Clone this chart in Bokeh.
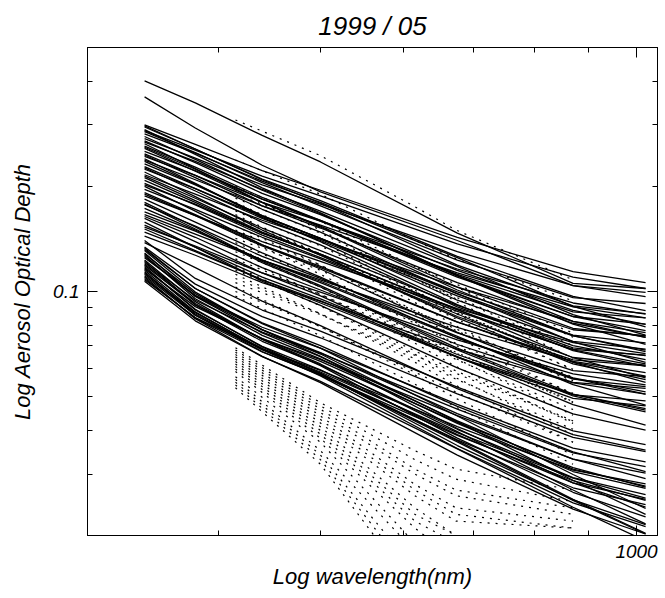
from bokeh.plotting import figure
from bokeh.models import LogAxis, FixedTicker, Range1d, BasicTickFormatter, CustomJSTickFormatter
from bokeh.embed import file_html
from bokeh.resources import INLINE

# wavelengths (nm)
wl_solid = [340, 380, 440, 500, 675, 870, 1020]
wl_dotted = [415, 500, 615, 673, 870]

# solid series (AOD at wl_solid)
aod_solid_top = [
    [0.401, 0.347, 0.280, 0.235, 0.147, 0.1055, 0.102],
    [0.361, 0.294, 0.230, 0.193, 0.140, 0.104, 0.0994],
]
aod_solid_upper = [
    [0.300, 0.264, 0.222, 0.195, 0.143, 0.114, 0.106],
    [0.298, 0.256, 0.209, 0.179, 0.119, 0.0909, 0.0864],
    [0.296, 0.256, 0.210, 0.182, 0.126, 0.0968, 0.0882],
    [0.291, 0.247, 0.198, 0.168, 0.111, 0.0821, 0.0739],
    [0.289, 0.254, 0.214, 0.188, 0.137, 0.110, 0.102],
    [0.287, 0.250, 0.205, 0.176, 0.123, 0.0961, 0.0924],
    [0.283, 0.249, 0.207, 0.180, 0.125, 0.0906, 0.0792],
    [0.278, 0.239, 0.195, 0.167, 0.111, 0.0848, 0.0806],
    [0.274, 0.241, 0.202, 0.178, 0.130, 0.104, 0.0967],
    [0.270, 0.234, 0.191, 0.166, 0.115, 0.0883, 0.0805],
    [0.268, 0.236, 0.196, 0.170, 0.118, 0.0858, 0.0750],
    [0.265, 0.225, 0.180, 0.153, 0.101, 0.0747, 0.0673],
    [0.261, 0.227, 0.186, 0.160, 0.112, 0.0874, 0.0840],
    [0.259, 0.224, 0.184, 0.159, 0.110, 0.0847, 0.0772],
    [0.257, 0.221, 0.180, 0.154, 0.103, 0.0784, 0.0745],
    [0.252, 0.222, 0.184, 0.160, 0.111, 0.0806, 0.0706],
    [0.248, 0.215, 0.176, 0.152, 0.106, 0.0811, 0.0739],
    [0.246, 0.212, 0.172, 0.148, 0.0984, 0.0750, 0.0713],
    [0.244, 0.215, 0.180, 0.159, 0.116, 0.0927, 0.0861],
    [0.240, 0.204, 0.163, 0.139, 0.0917, 0.0677, 0.0610],
    [0.238, 0.209, 0.176, 0.155, 0.113, 0.0904, 0.0840],
    [0.236, 0.203, 0.165, 0.142, 0.0944, 0.0720, 0.0684],
    [0.232, 0.202, 0.165, 0.142, 0.0998, 0.0777, 0.0747],
    [0.228, 0.197, 0.162, 0.140, 0.0971, 0.0746, 0.0679],
    [0.226, 0.194, 0.158, 0.136, 0.0904, 0.0689, 0.0655],
    [0.224, 0.197, 0.164, 0.142, 0.0986, 0.0717, 0.0627],
    [0.220, 0.187, 0.150, 0.127, 0.0840, 0.0620, 0.0559],
    [0.216, 0.190, 0.160, 0.141, 0.103, 0.0821, 0.0762],
    [0.214, 0.185, 0.152, 0.131, 0.0912, 0.0700, 0.0638],
    [0.212, 0.182, 0.148, 0.127, 0.0848, 0.0647, 0.0615],
    [0.208, 0.180, 0.147, 0.128, 0.0886, 0.0680, 0.0620],
    [0.204, 0.177, 0.145, 0.125, 0.0877, 0.0683, 0.0657],
    [0.202, 0.178, 0.147, 0.128, 0.0889, 0.0646, 0.0566],
    [0.200, 0.170, 0.136, 0.116, 0.0764, 0.0564, 0.0508],
    [0.196, 0.172, 0.143, 0.124, 0.0862, 0.0627, 0.0549],
    [0.192, 0.166, 0.136, 0.118, 0.0818, 0.0628, 0.0572],
    [0.190, 0.165, 0.135, 0.117, 0.0817, 0.0637, 0.0612],
    [0.188, 0.165, 0.139, 0.122, 0.0893, 0.0714, 0.0664],
    [0.184, 0.158, 0.129, 0.110, 0.0736, 0.0561, 0.0534],
    [0.180, 0.153, 0.122, 0.104, 0.0688, 0.0508, 0.0457],
    [0.178, 0.151, 0.121, 0.103, 0.0680, 0.0502, 0.0452],
    [0.177, 0.154, 0.126, 0.109, 0.0761, 0.0593, 0.0570],
    [0.173, 0.150, 0.123, 0.106, 0.0737, 0.0566, 0.0516],
    [0.169, 0.149, 0.123, 0.107, 0.0744, 0.0541, 0.0473],
    [0.166, 0.146, 0.123, 0.108, 0.0789, 0.0631, 0.0586],
    [0.164, 0.143, 0.117, 0.101, 0.0705, 0.0549, 0.0528],
    [0.162, 0.139, 0.113, 0.0972, 0.0648, 0.0494, 0.0470],
    [0.158, 0.134, 0.107, 0.0913, 0.0604, 0.0446, 0.0401],
    [0.155, 0.134, 0.110, 0.0952, 0.0660, 0.0507, 0.0462],
    [0.153, 0.135, 0.113, 0.0996, 0.0727, 0.0581, 0.0540],
    [0.151, 0.131, 0.108, 0.0927, 0.0649, 0.0506, 0.0486],
    [0.148, 0.130, 0.108, 0.0940, 0.0651, 0.0474, 0.0414],
    [0.144, 0.127, 0.106, 0.0937, 0.0684, 0.0547, 0.0508],
]
aod_solid_lower = [
    [0.140, 0.109, 0.0885, 0.0770, 0.0532, 0.0399, 0.0364],
    [0.138, 0.117, 0.0938, 0.0798, 0.0527, 0.0389, 0.0351],
    [0.134, 0.105, 0.0847, 0.0737, 0.0509, 0.0382, 0.0348],
    [0.133, 0.102, 0.0809, 0.0688, 0.0440, 0.0299, 0.0239],
    [0.132, 0.102, 0.0813, 0.0700, 0.0469, 0.0347, 0.0305],
    [0.131, 0.0996, 0.0777, 0.0652, 0.0405, 0.0283, 0.0241],
    [0.129, 0.0968, 0.0761, 0.0651, 0.0426, 0.0310, 0.0277],
    [0.128, 0.0986, 0.0778, 0.0662, 0.0424, 0.0288, 0.0230],
    [0.127, 0.0953, 0.0749, 0.0641, 0.0419, 0.0305, 0.0273],
    [0.126, 0.0970, 0.0776, 0.0668, 0.0447, 0.0331, 0.0291],
    [0.125, 0.0975, 0.0790, 0.0688, 0.0475, 0.0356, 0.0325],
    [0.123, 0.0935, 0.0729, 0.0613, 0.0380, 0.0266, 0.0226],
    [0.122, 0.0915, 0.0720, 0.0616, 0.0403, 0.0293, 0.0262],
    [0.121, 0.0944, 0.0765, 0.0666, 0.0460, 0.0345, 0.0315],
    [0.120, 0.0924, 0.0730, 0.0620, 0.0397, 0.0270, 0.0216],
    [0.119, 0.0916, 0.0733, 0.0631, 0.0422, 0.0313, 0.0275],
    [0.118, 0.0885, 0.0696, 0.0596, 0.0389, 0.0283, 0.0254],
    [0.117, 0.0889, 0.0694, 0.0583, 0.0362, 0.0253, 0.0215],
    [0.116, 0.0905, 0.0733, 0.0638, 0.0441, 0.0331, 0.0302],
    [0.115, 0.0874, 0.0682, 0.0573, 0.0355, 0.0248, 0.0212],
    [0.114, 0.0855, 0.0673, 0.0576, 0.0376, 0.0274, 0.0245],
    [0.113, 0.0870, 0.0687, 0.0584, 0.0374, 0.0254, 0.0203],
    [0.112, 0.0862, 0.0681, 0.0579, 0.0371, 0.0252, 0.0202],
    [0.111, 0.0855, 0.0684, 0.0588, 0.0394, 0.0292, 0.0256],
    [0.110, 0.0836, 0.0652, 0.0548, 0.0340, 0.0238, 0.0202],
    [0.109, 0.0839, 0.0671, 0.0578, 0.0387, 0.0287, 0.0252],
    [0.108, 0.0842, 0.0683, 0.0594, 0.0410, 0.0308, 0.0281],
    [0.107, 0.0824, 0.0651, 0.0553, 0.0354, 0.0241, 0.0193],
]

# dotted series (AOD at wl_dotted)
aod_dotted_top = [
    [0.310, 0.245, 0.175, 0.150, 0.108],
    [0.238, 0.190, 0.140, 0.124, 0.094],
]
aod_dotted_upper = [
    [0.200, 0.159, 0.118, 0.103, 0.074],
    [0.195, 0.150, 0.109, 0.0936, 0.0644],
    [0.190, 0.154, 0.118, 0.105, 0.076],
    [0.185, 0.147, 0.109, 0.0953, 0.0685],
    [0.180, 0.139, 0.101, 0.0864, 0.0594],
    [0.175, 0.142, 0.109, 0.0963, 0.070],
    [0.170, 0.135, 0.100, 0.0876, 0.0629],
    [0.166, 0.128, 0.093, 0.0797, 0.0548],
    [0.162, 0.128, 0.0953, 0.0834, 0.0599],
    [0.158, 0.128, 0.098, 0.0869, 0.0632],
    [0.154, 0.119, 0.0862, 0.0739, 0.0508],
    [0.150, 0.119, 0.0882, 0.0773, 0.0555],
    [0.146, 0.112, 0.0818, 0.0701, 0.0482],
    [0.142, 0.115, 0.088, 0.0781, 0.0568],
    [0.138, 0.109, 0.0811, 0.0711, 0.0511],
    [0.134, 0.103, 0.075, 0.0643, 0.0442],
    [0.130, 0.103, 0.0764, 0.067, 0.0481],
    [0.127, 0.0978, 0.0711, 0.061, 0.0419],
    [0.124, 0.0983, 0.0729, 0.0639, 0.0459],
    [0.121, 0.098, 0.075, 0.0666, 0.0484],
    [0.118, 0.0909, 0.0661, 0.0566, 0.0389],
    [0.115, 0.0912, 0.0676, 0.0592, 0.0426],
    [0.112, 0.0862, 0.0627, 0.0538, 0.037],
    [0.109, 0.0864, 0.0641, 0.0561, 0.0403],
    [0.106, 0.0859, 0.0657, 0.0583, 0.0424],
    [0.103, 0.0793, 0.0577, 0.0494, 0.034],
    [0.100, 0.0793, 0.0588, 0.0515, 0.037],
    [0.097, 0.0747, 0.0543, 0.0466, 0.032],
]
aod_dotted_lower = [
    [0.069, 0.048, 0.035, 0.031, 0.027],
    [0.068, 0.047, 0.033, 0.029, 0.025],
    [0.067, 0.046, 0.031, 0.027, 0.024],
    [0.066, 0.045, 0.030, 0.026, 0.023],
    [0.065, 0.044, 0.028, 0.024, 0.022],
    [0.064, 0.043, 0.027, 0.023, 0.021],
    [0.063, 0.042, 0.026, 0.022, 0.021],
    [0.062, 0.041, 0.024, 0.020, 0.019],
    [0.061, 0.040, 0.023, 0.020, 0.020],
    [0.060, 0.039, 0.022, 0.019, 0.020],
    [0.059, 0.038, 0.021, 0.017, 0.018],
    [0.057, 0.037, 0.019, 0.016, 0.017],
    [0.056, 0.035, 0.018, 0.015, 0.018],
    [0.055, 0.034, 0.016, 0.013, 0.015],
    [0.054, 0.033, 0.015, 0.012, 0.014],
    [0.053, 0.032, 0.014, 0.011, 0.013],
]

# axes
x_limits = [300, 1047]
y_limits = [0.02, 0.5]
x_major = [1000]
x_minor = [300, 400, 500, 600, 700, 800, 900]
y_major = [0.1]
y_minor = [0.02, 0.03, 0.04, 0.05, 0.06, 0.07, 0.08, 0.09, 0.2, 0.3, 0.4, 0.5]

FONT = "Liberation Sans"

p = figure(width=665, height=596, x_axis_type="log", y_axis_type="log",
           x_range=Range1d(*x_limits), y_range=Range1d(*y_limits),
           output_backend="svg", toolbar_location=None,
           min_border_left=87, min_border_right=8, min_border_top=47,
           min_border_bottom=61)
p.background_fill_color = "white"
p.border_fill_color = "white"
p.outline_line_color = "black"
p.grid.visible = False

p.title.text = "1999 / 05"
p.title.align = "center"
p.title.text_font = FONT
p.title.text_font_style = "italic"
p.title.text_font_size = "26px"
p.title.text_color = "black"
p.title.standoff = 14

for s in aod_solid_top + aod_solid_upper + aod_solid_lower:
    p.line(wl_solid, s, line_color="black", line_width=1.3)
for s in aod_dotted_top + aod_dotted_upper + aod_dotted_lower:
    p.line(wl_dotted, s, line_color="black", line_width=1.2, line_dash="2 6")

def style_axis(ax, ticks, minor):
    ax.ticker = FixedTicker(ticks=ticks, minor_ticks=minor)
    ax.axis_line_color = "black"
    ax.major_tick_line_color = "black"
    ax.minor_tick_line_color = "black"
    ax.major_tick_in = 10
    ax.major_tick_out = 0
    ax.minor_tick_in = 5
    ax.minor_tick_out = 0
    ax.major_label_text_font = FONT
    ax.major_label_text_font_style = "italic"
    ax.major_label_text_color = "black"
    ax.major_label_text_font_size = "19px"

xa = p.xaxis[0]
style_axis(xa, x_major, x_minor)
xa.formatter = BasicTickFormatter(use_scientific=False)
xa.major_label_standoff = 9
xa.axis_label = "Log wavelength(nm)"
xa.axis_label_text_font = FONT
xa.axis_label_text_font_style = "italic"
xa.axis_label_text_font_size = "22px"
xa.axis_label_text_color = "black"
xa.axis_label_standoff = 3

ya = p.yaxis[0]
style_axis(ya, y_major, y_minor)
ya.formatter = BasicTickFormatter(use_scientific=False)
ya.major_label_standoff = 8
ya.axis_label = "Log Aerosol Optical Depth"
ya.axis_label_text_font = FONT
ya.axis_label_text_font_style = "italic"
ya.axis_label_text_font_size = "22px"
ya.axis_label_text_color = "black"
ya.axis_label_standoff = 15

blank = CustomJSTickFormatter(code="return '';")
top = LogAxis()
style_axis(top, x_major, x_minor)
top.formatter = blank
top.major_label_standoff = 0
p.add_layout(top, "above")
right = LogAxis()
style_axis(right, y_major, y_minor)
right.formatter = blank
right.major_label_standoff = 0
p.add_layout(right, "right")

open("out.html", "w").write(file_html(p, INLINE))
